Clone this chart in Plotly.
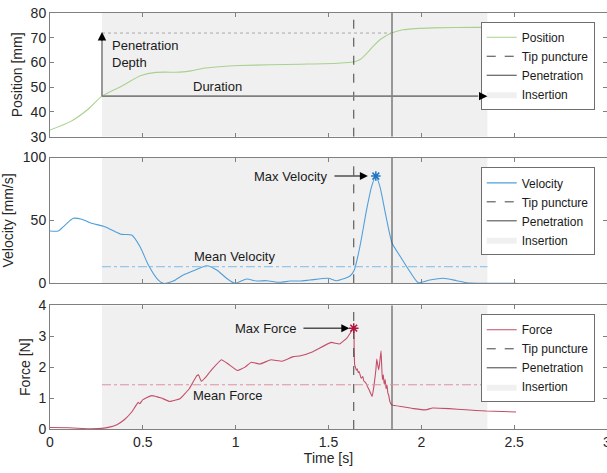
import plotly.graph_objects as go
from plotly.subplots import make_subplots

# ---------------- data ----------------
pos_t = [0, 0.11, 0.2, 0.28, 0.38, 0.49, 0.57, 0.70, 0.76, 0.82, 0.91, 1.02, 1.35, 1.55, 1.64,
         1.67, 1.705, 1.74, 1.78, 1.84, 1.90, 1.97, 2.06, 2.3, 2.52]
pos_v = [32.7, 36.1, 40.8, 46.4, 50.2, 54.7, 56.0, 56.1, 56.6, 57.6, 58.3, 58.8, 59.3, 59.7, 60.3,
         61.2, 63.6, 66.5, 69.4, 71.9, 73.2, 73.7, 74.0, 74.2, 74.3]

vel_t = [0, 0.045, 0.081, 0.126, 0.171, 0.224, 0.285, 0.341, 0.386, 0.44, 0.485, 0.53, 0.575, 0.61,
         0.664, 0.718, 0.772, 0.844, 0.898, 0.951, 0.996, 1.059, 1.113, 1.167, 1.239, 1.292, 1.346,
         1.40, 1.499, 1.544, 1.616, 1.639, 1.669, 1.705, 1.732, 1.755, 1.777, 1.81, 1.843, 1.885,
         1.939, 1.984, 2.046, 2.118, 2.19, 2.244, 2.387, 2.513]
vel_v = [41.6, 41.6, 46.3, 51.7, 50.9, 47.7, 45.5, 41.8, 38.9, 38.4, 29.1, 14.5, 4.0, 0.0,
         1.8, 6.6, 10.0, 14.0, 10.6, 4.0, 0.0, 3.4, 1.8, 2.1, 0.8, 1.8, 1.8,
         2.6, 4.0, 2.1, 5.8, 10.6, 29.1, 58.3, 76.8, 85.3, 76.8, 53.0, 31.8, 21.7,
         9.2, 0.5, 2.6, 4.0, 2.1, 0.5, 0.0, 0.0]

force_t = [0, 0.1, 0.2, 0.28, 0.32, 0.36, 0.40, 0.44, 0.475, 0.484, 0.50, 0.547, 0.60, 0.645, 0.70,
           0.75, 0.79, 0.80, 0.815, 0.835, 0.87, 0.923, 0.96, 1.01, 1.05, 1.084, 1.13, 1.19, 1.25,
           1.31, 1.344, 1.416, 1.514, 1.559, 1.60, 1.636, 1.638, 1.641, 1.645, 1.65, 1.655, 1.66,
           1.665, 1.676, 1.685, 1.69, 1.70, 1.71, 1.72, 1.735, 1.745, 1.755, 1.76, 1.77, 1.775,
           1.783, 1.79, 1.795, 1.80, 1.805, 1.81, 1.815, 1.82, 1.824, 1.83, 1.84, 1.9, 1.96, 2.025,
           2.06, 2.15, 2.24, 2.35, 2.51]
force_v = [0.05, 0.04, 0.01, 0.02, 0.06, 0.14, 0.30, 0.55, 0.86, 0.82, 0.95, 1.08, 1.0, 0.89, 0.98,
           1.3, 1.72, 1.75, 1.54, 1.65, 1.91, 2.24, 2.1, 1.89, 2.0, 2.16, 2.10, 2.24, 2.19,
           2.34, 2.36, 2.5, 2.8, 2.75, 2.95, 3.26, 2.6, 2.07, 2.0, 1.9, 1.95, 1.82,
           1.86, 1.64, 1.7, 1.55, 1.5, 1.37, 1.25, 1.05, 1.4, 1.9, 2.26, 1.91, 2.1,
           2.53, 1.59, 1.75, 1.45, 1.6, 1.3, 1.42, 1.15, 1.1, 0.9, 0.78, 0.72, 0.66, 0.62,
           0.68, 0.66, 0.62, 0.58, 0.55]

insertion_start = 0.28
insertion_end = 2.356
tip_puncture_t = 1.636
penetration_t = 1.842
penetration_depth = 71.9
mean_velocity = 13.2
mean_force = 1.43
max_vel_t, max_vel = 1.755, 85.3
max_force_t, max_force = 1.636, 3.26

y_ranges = [[30, 80], [0, 100], [0, 4]]
y_ticks = [[30, 40, 50, 60, 70, 80], [0, 50, 100], [0, 1, 2, 3, 4]]
y_titles = ["Position [mm]", "Velocity [mm/s]", "Force [N]"]
x_ticks = [0, 0.5, 1, 1.5, 2, 2.5, 3]
x_ticklabels = ["0", "0.5", "1", "1.5", "2", "2.5", "3"]

# ---------------- styles ----------------
FONT = "Liberation Sans, Arial, Helvetica, sans-serif"
AX = "#808080"
VLINE = "#404040"
FILL = "#f0f0f0"
C_POS = "#a9d18e"
C_VEL = "#4f9fdb"
C_VEL_M = "#1f77c4"
C_FOR = "#c44d68"
C_FOR_M = "#b0153a"

fig = make_subplots(rows=3, cols=1)

domains = [[0.7026, 1.0], [0.3502, 0.6526], [0.0, 0.2974]]
legends = ["legend", "legend2", "legend3"]
names = ["Position", "Velocity", "Force"]
series = [(pos_t, pos_v, C_POS), (vel_t, vel_v, C_VEL), (force_t, force_v, C_FOR)]
standoffs = [4, 6, 4]

for i in range(3):
    row = i + 1
    lo, hi = y_ranges[i]
    lg = legends[i]
    fig.add_trace(go.Scatter(
        x=[insertion_start, insertion_end, insertion_end, insertion_start, insertion_start],
        y=[lo, lo, hi, hi, lo], fill="toself", fillcolor=FILL, mode="lines",
        line=dict(width=0, color=FILL), name="Insertion", legend=lg, legendrank=4,
        hoverinfo="skip"), row=row, col=1)
    t, v, c = series[i]
    fig.add_trace(go.Scatter(x=t, y=v, mode="lines", line=dict(color=c, width=1.1,
                  shape="spline", smoothing=0.6 if i < 2 else 0.3),
                  name=names[i], legend=lg, legendrank=1), row=row, col=1)
    fig.add_trace(go.Scatter(x=[tip_puncture_t, tip_puncture_t], y=[lo, hi], mode="lines",
                  line=dict(color=VLINE, width=1, dash="dash"), name="Tip puncture",
                  legend=lg, legendrank=2), row=row, col=1)
    fig.add_trace(go.Scatter(x=[penetration_t, penetration_t], y=[lo, hi], mode="lines",
                  line=dict(color=VLINE, width=1), name="Penetration",
                  legend=lg, legendrank=3), row=row, col=1)

# panel 1 extras
fig.add_trace(go.Scatter(x=[insertion_start, penetration_t], y=[penetration_depth] * 2, mode="lines",
              line=dict(color="#a8a8a8", width=1, dash="dot"), showlegend=False), row=1, col=1)
fig.add_trace(go.Scatter(x=[insertion_start, insertion_start], y=[pos_v[3], penetration_depth - 1.5],
              mode="lines", line=dict(color=AX, width=1.6), showlegend=False), row=1, col=1)
fig.add_trace(go.Scatter(x=[insertion_start, insertion_end - 0.05], y=[pos_v[3], pos_v[3]],
              mode="lines", line=dict(color=AX, width=1.6), showlegend=False), row=1, col=1)

# mean lines
fig.add_trace(go.Scatter(x=[insertion_start, insertion_end], y=[mean_velocity] * 2, mode="lines",
              line=dict(color="#7fbbe6", width=1, dash="dashdot"), showlegend=False), row=2, col=1)
fig.add_trace(go.Scatter(x=[insertion_start, insertion_end], y=[mean_force] * 2, mode="lines",
              line=dict(color="#de8fa2", width=1, dash="dashdot"), showlegend=False), row=3, col=1)

# max markers
fig.add_trace(go.Scatter(x=[max_vel_t], y=[max_vel], mode="markers",
              marker=dict(symbol="asterisk-open", size=8, color=C_VEL_M,
                          line=dict(color=C_VEL_M, width=1.5)),
              showlegend=False), row=2, col=1)
fig.add_trace(go.Scatter(x=[max_force_t], y=[max_force], mode="markers",
              marker=dict(symbol="asterisk-open", size=8, color=C_FOR_M,
                          line=dict(color=C_FOR_M, width=1.5)),
              showlegend=False), row=3, col=1)

tf = dict(family=FONT, size=13, color="#1a1a1a")
ann = []
ann.append(dict(x=insertion_start + 0.045, y=63.6, xref="x", yref="y", text="Penetration<br>Depth",
                showarrow=False, xanchor="left", align="left", font=tf))
ann.append(dict(x=0.90, y=50.4, xref="x", yref="y", text="Duration", showarrow=False, font=tf))
ann.append(dict(x=0.996, y=21.7, xref="x2", yref="y2", text="Mean Velocity", showarrow=False, font=tf))
ann.append(dict(x=0.958, y=1.08, xref="x3", yref="y3", text="Mean Force", showarrow=False, font=tf))
ann.append(dict(x=1.50, y=max_vel, xref="x2", yref="y2", text="Max Velocity", showarrow=False,
                xanchor="right", font=tf))
ann.append(dict(x=1.335, y=max_force, xref="x3", yref="y3", text="Max Force", showarrow=False,
                xanchor="right", font=tf))
ann.append(dict(x=1.712, y=max_vel, xref="x2", yref="y2", axref="x2", ayref="y2", ax=1.524, ay=max_vel,
                text="", showarrow=True, arrowhead=2, arrowsize=1.6, arrowwidth=1, arrowcolor="black"))
ann.append(dict(x=1.612, y=max_force, xref="x3", yref="y3", axref="x3", ayref="y3", ax=1.357, ay=max_force,
                text="", showarrow=True, arrowhead=2, arrowsize=1.6, arrowwidth=1, arrowcolor="black"))
ann.append(dict(x=insertion_start, y=penetration_depth + 0.4, xref="x", yref="y", ax=0, ay=10,
                text="", showarrow=True, arrowhead=2, arrowsize=1.3, arrowwidth=1.3, arrowcolor="black"))
ann.append(dict(x=insertion_end, y=pos_v[3], xref="x", yref="y", ax=-10, ay=0,
                text="", showarrow=True, arrowhead=2, arrowsize=1.3, arrowwidth=1.3, arrowcolor="black"))

axis_common = dict(showline=True, linecolor=AX, linewidth=1, mirror="ticks", ticks="inside",
                   ticklen=4, tickcolor=AX, showgrid=False, zeroline=False, automargin=False,
                   ticklabeloverflow="allow",
                   tickfont=dict(family=FONT, size=14, color="#262626"))

for i in range(3):
    fig.update_yaxes(row=i + 1, col=1, range=y_ranges[i], tickvals=y_ticks[i], domain=domains[i],
                     title=dict(text=y_titles[i], font=dict(family=FONT, size=14, color="#262626"),
                                standoff=standoffs[i]),
                     **axis_common)
    fig.update_xaxes(row=i + 1, col=1, range=[0, 3], tickvals=x_ticks,
                     ticktext=x_ticklabels, showticklabels=(i == 2), **axis_common)
fig.update_xaxes(row=3, col=1, title=dict(text="Time [s]", font=dict(family=FONT, size=14, color="#262626"),
                                          standoff=2))

leg_common = dict(bgcolor="white", bordercolor="#6e6e6e", borderwidth=1, xanchor="left",
                  yanchor="top", x=0.7733, itemwidth=30, traceorder="normal",
                  font=dict(family=FONT, size=12, color="#1a1a1a"), tracegroupgap=0)

fig.update_layout(
    width=607, height=473, margin=dict(l=50, r=0, t=13, b=44),
    plot_bgcolor="white", paper_bgcolor="white",
    showlegend=True,
    legend=dict(y=0.979, **leg_common),
    legend2=dict(y=0.629, **leg_common),
    legend3=dict(y=0.2757, **leg_common),
    annotations=ann,
)

# remove the browser's default 8px body margin so the figure sits at the page origin
fig.write_html("out.html", config={"displayModeBar": False},
               post_script="document.body.style.margin='0';")
